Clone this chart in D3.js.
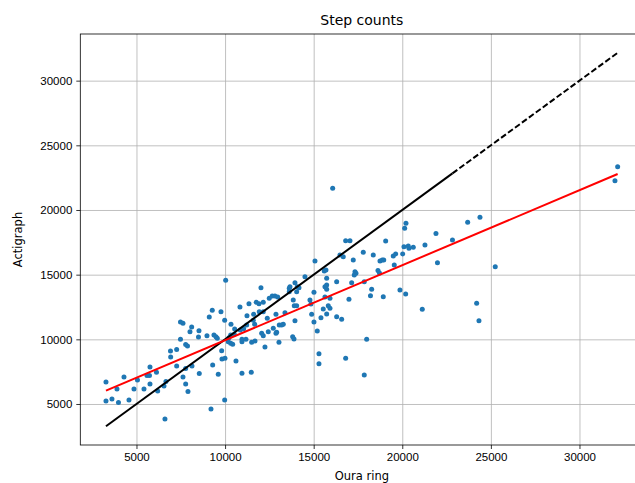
<!DOCTYPE html>
<html>
<head>
<meta charset="utf-8">
<script src="https://cdn.jsdelivr.net/npm/d3@7"></script>
<style>
  body { margin: 0; background: #fff; }
  svg { display: block; font-family: "DejaVu Sans", sans-serif; }
  .tick text { font-size: 11.5px; fill: #000; }
  .grid line { stroke: #b0b0b0; stroke-width: 0.8; }
  .grid path { display: none; }
</style>
</head>
<body>
<svg id="chart" width="635" height="483"></svg>
<script>
// Step counts per day: Oura ring (x) vs Actigraph (y)
const ouraSteps = [
  3279, 3279, 3617, 3984, 3900, 4295, 4577, 4859, 5056, 5423,
  5593, 5734, 5762, 5762, 6129, 6196, 6552, 6663, 6608, 6919,
  6930, 7268, 7268, 7483, 7483, 7624, 7776, 7878, 7776, 7624,
  7776, 7906, 8115, 8019, 8132, 8499, 8527, 8544, 8978, 9108,
  9277, 9373, 9204, 9300, 9486, 9560, 9768, 9977, 10034, 10333,
  10840, 11348, 11760, 11913, 12155, 12155, 11930, 11614, 11236, 11591,
  11670, 11219, 11049, 10857, 10541, 10519, 10316, 10220, 10180, 10316,
  10429, 10953, 10953, 11179, 11501, 11687, 12065, 12155, 12437, 12720,
  12911, 13058, 13194, 13284, 12251, 13041, 13814, 13888, 13944, 13380,
  12494, 12663, 12815, 12968, 13622, 13848, 14040, 13905, 14040, 14074,
  14790, 14847, 15016, 14886, 15411, 15541, 15637, 15823, 15016, 15203,
  15298, 15298, 9825, 9994, 9808, 10615, 9616, 10953, 11478, 9977,
  12025, 13662, 13944, 14170, 14508, 15073, 15597, 12872, 12381, 12872,
  13622, 15637,
  16072, 16805, 17048, 19062, 17798, 18363, 17234, 16483, 16669, 18628,
  18712, 18741, 18869, 18953, 19491, 19627, 20022, 20095, 20338, 20377,
  20620, 21280, 21985, 19548, 20208, 20135, 21901, 17330, 17386, 17290,
  15693, 15733, 16297, 17144, 17855, 18273, 18205, 18927, 19869, 20191,
  21128, 15733, 15733, 15919, 16991, 15919, 15733, 16297, 16579, 17990,
  16805, 17855,
  22832, 23690, 24384, 25247, 24197, 24327, 32154, 32002
];
const actigraphSteps = [
  6701, 5232, 5387, 5116, 6160, 7088, 5309, 6160, 6856, 6160,
  7204, 7204, 7861, 6546, 7451, 6005, 6392, 6740, 3840, 9098,
  8634, 9214, 7938, 10003, 11340, 11240, 9600, 9485, 7745, 7088,
  6546, 5967, 10954, 10590, 7938, 10180, 10668, 7358, 10281, 11727,
  12245, 10335, 4613, 8015, 10204, 10080, 12137, 11472, 14564, 11162,
  12500, 12755, 12863, 12755, 12863, 12137, 12137, 11936, 11827, 11472,
  11162, 11108, 10822, 10722, 10799, 10389, 10335, 10126, 9817, 9693,
  9616, 10003, 9817, 10003, 9771, 9871, 10467, 10281, 10590, 10853,
  10544, 11108, 11108, 11162, 9407, 9771, 10204, 10026, 11441, 12059,
  13173, 13351, 13351, 13273, 13946, 13041, 13683, 12601, 12601, 14069,
  13041, 12732, 13637, 11936, 11673, 12345, 13273, 12601, 11333, 10644,
  8889, 8116, 8479, 8533, 9121, 8325, 7296, 7374, 7451, 5309,
  13992, 14069, 14379, 13992, 14843, 16057, 15284, 11936, 11627, 10467,
  13683, 14069,
  21678, 17627, 17627, 17603, 16729, 16521, 16134, 16521, 16389, 15322,
  15129, 16057, 16134, 16134, 16443, 16598, 16598, 17162, 17217, 17039,
  17116, 17294, 15925, 15747, 18972, 18585, 18183, 15229, 15106, 14974,
  15361, 14719, 14456, 14379, 14456, 13869, 13366, 13296, 13814, 13505,
  12322, 14201, 13869, 13173, 13095, 12400, 11959, 11750, 11549, 10003,
  8534, 7242,
  17680, 19049, 19436, 15616, 12786, 11441, 23348, 22266
];

// tick values
const xTicks = [5000, 10000, 15000, 20000, 25000, 30000];
const yTicks = [5000, 10000, 15000, 20000, 25000, 30000];

// linear fit, identity line goes dashed past this x
const fitSlope = 0.58;
const fitIntercept = 4130;
const dashFrom = 22832;

const svg = d3.select("#chart");
const margin = { top: 34, left: 80.3 };
const width = 563.1, height = 411;

const x = d3.scaleLinear().domain([1830, 33607]).range([0, width]);
const y = d3.scaleLinear().domain([1830, 33607]).range([height, 0]);

const g = svg.append("g").attr("transform", `translate(${margin.left},${margin.top})`);

// grid
g.append("g").attr("class", "grid")
  .attr("transform", `translate(0,${height})`)
  .call(d3.axisBottom(x).tickValues(xTicks).tickSize(-height).tickFormat(""));
g.append("g").attr("class", "grid")
  .call(d3.axisLeft(y).tickValues(yTicks).tickSize(-width).tickFormat(""));

// scatter
g.selectAll(".dot")
  .data(ouraSteps.map((d, i) => [d, actigraphSteps[i]]))
  .enter()
  .append("circle")
  .attr("class", "dot")
  .attr("cx", d => x(d[0]))
  .attr("cy", d => y(d[1]))
  .attr("r", 2.5)
  .attr("fill", "#1f77b4");

// identity line: solid where the data is dense, dashed beyond
const xMin = d3.min(ouraSteps), xMax = d3.max(ouraSteps);
const line = d3.line().x(d => x(d)).y(d => y(d));
g.append("path").attr("d", line([xMin, dashFrom]))
  .attr("stroke", "#000").attr("stroke-width", 2).attr("fill", "none");
g.append("path").attr("d", line([dashFrom, xMax]))
  .attr("stroke", "#000").attr("stroke-width", 2).attr("fill", "none")
  .attr("stroke-dasharray", "6,2.6");

// fitted line
const fitLine = d3.line().x(d => x(d)).y(d => y(fitSlope * d + fitIntercept));
g.append("path").attr("d", fitLine([xMin, xMax]))
  .attr("stroke", "#ff0000").attr("stroke-width", 2).attr("fill", "none");

// axes
const xAxis = g.append("g")
  .attr("transform", `translate(0,${height})`)
  .call(d3.axisBottom(x).tickValues(xTicks).tickSize(4).tickPadding(4).tickFormat(d3.format("d")));
const yAxis = g.append("g")
  .call(d3.axisLeft(y).tickValues(yTicks).tickSize(4).tickPadding(4).tickFormat(d3.format("d")));
[xAxis, yAxis].forEach(a => {
  a.select(".domain").remove();
  a.selectAll(".tick line").attr("stroke", "#000").attr("stroke-width", 0.8);
  a.selectAll(".tick text").attr("font-family", null).attr("font-size", null);
});

// frame
g.append("rect").attr("width", width).attr("height", height)
  .attr("fill", "none").attr("stroke", "#000").attr("stroke-width", 0.8);

// titles
svg.append("text").attr("x", margin.left + width / 2).attr("y", 25)
  .attr("text-anchor", "middle").attr("font-size", 14).text("Step counts");
svg.append("text").attr("x", margin.left + width / 2).attr("y", 480)
  .attr("text-anchor", "middle").attr("font-size", 11.5).text("Oura ring");
svg.append("text").attr("transform", `translate(22,${margin.top + height / 2}) rotate(-90)`)
  .attr("text-anchor", "middle").attr("font-size", 11.5).text("Actigraph");
</script>
</body>
</html>
